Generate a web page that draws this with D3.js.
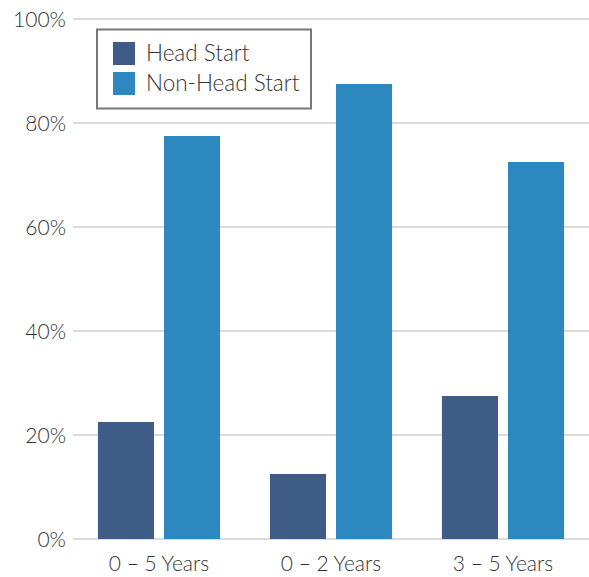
<!DOCTYPE html>
<html>
<head>
<meta charset="utf-8">
<script src="https://cdn.jsdelivr.net/npm/d3@7"></script>
<style>
  body { margin: 0; background: #fff; }
  text { font-family: Lato, "Open Sans", sans-serif; font-weight: 300; fill: #333; }
</style>
</head>
<body>
<svg id="chart" width="589" height="577"></svg>
<script>
// chart values
var categories = ['0 \u2013 5 Years', '0 \u2013 2 Years', '3 \u2013 5 Years'];
var seriesNames = ['Head Start', 'Non-Head Start'];
var headStart = [22.5, 12.5, 27.5];
var nonHeadStart = [77.5, 87.5, 72.5];
var yTicks = [0, 20, 40, 60, 80, 100];
var colors = ['#3f5b88', '#2e88c0'];

var svg = d3.select('#chart');
var plotLeft = 73, plotRight = 589, plotTop = 19, plotBottom = 539;

var x0 = d3.scaleBand()
		.domain(categories)
		.range([plotLeft, plotRight])
		.paddingInner(0.29)
		.paddingOuter(0.145);
var x1 = d3.scaleBand()
		.domain(seriesNames)
		.range([0, x0.bandwidth()])
		.paddingInner(0.1515);
var y = d3.scaleLinear().domain([0, 100]).range([plotBottom, plotTop]);

// gridlines
svg.append('g')
	.selectAll('line')
	.data(yTicks)
	.enter().append('line')
		.attr('x1', plotLeft)
		.attr('x2', plotRight)
		.attr('y1', function(d){ return y(d); })
		.attr('y2', function(d){ return y(d); })
		.attr('stroke', '#cfcfcf')
		.attr('stroke-width', 1.5);

// y labels
svg.append('g')
	.selectAll('text')
	.data(yTicks)
	.enter().append('text')
		.attr('x', 66)
		.attr('y', function(d){ return y(d); })
		.attr('dy', '0.36em')
		.attr('text-anchor', 'end')
		.style('font-size', '21px')
		.text(function(d){ return d + '%'; });

// bars
var rows = categories.map(function(c, i){
	return {cat: c, vals: [headStart[i], nonHeadStart[i]]};
});
var groups = svg.append('g')
	.selectAll('g')
	.data(rows)
	.enter().append('g')
		.attr('transform', function(d){ return 'translate(' + x0(d.cat) + ',0)'; });

groups.selectAll('rect')
	.data(function(d){ return d.vals.map(function(v, j){ return {name: seriesNames[j], v: v, j: j}; }); })
	.enter().append('rect')
		.attr('x', function(d){ return x1(d.name); })
		.attr('width', x1.bandwidth())
		.attr('y', function(d){ return y(d.v); })
		.attr('height', function(d){ return y(0) - y(d.v); })
		.attr('fill', function(d){ return colors[d.j]; });

// x labels
svg.append('g')
	.selectAll('text')
	.data(categories)
	.enter().append('text')
		.attr('x', function(d){ return x0(d) + x0.bandwidth() / 2; })
		.attr('y', 571)
		.attr('text-anchor', 'middle')
		.style('font-size', '21px')
		.text(function(d){ return d; });

// legend
var legend = svg.append('g');
legend.append('rect')
	.attr('x', 97)
	.attr('y', 29.5)
	.attr('width', 214)
	.attr('height', 79)
	.attr('fill', '#fff')
	.attr('stroke', '#777')
	.attr('stroke-width', 2);
seriesNames.forEach(function(name, i){
	legend.append('rect')
		.attr('x', 113)
		.attr('y', 42 + i * 30)
		.attr('width', 22)
		.attr('height', 23)
		.attr('fill', colors[i]);
	legend.append('text')
		.attr('x', 146)
		.attr('y', 61 + i * 30)
		.style('font-size', '22.5px')
		.text(name);
});
</script>
</body>
</html>
